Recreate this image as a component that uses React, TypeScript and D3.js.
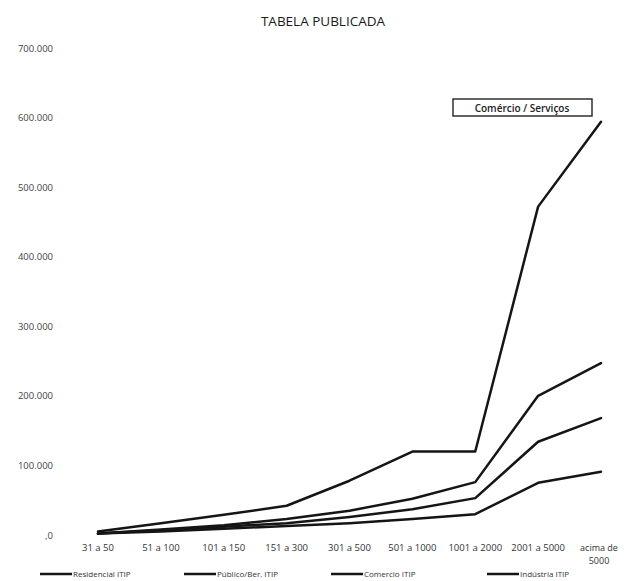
import React from "react";
import * as d3 from "d3";

const categories = ["31 a 50", "51 a 100", "101 a 150", "151 a 300", "301 a 500", "501 a 1000", "1001 a 2000", "2001 a 5000", "acima de 5000"];
const residencial = [2000, 5000, 9000, 13000, 17000, 23000, 30000, 75000, 91000];
const publico = [2000, 7000, 12000, 17000, 26000, 37000, 53000, 134000, 168000];
const comercio = [5000, 17000, 29000, 42000, 78000, 120000, 120000, 472000, 594000];
const industria = [2000, 8000, 14000, 23000, 35000, 52000, 76000, 200000, 247000];
const seriesNames = ["Residencial ITIP", "Público/Ber. ITIP", "Comercio ITIP", "Indústria ITIP"];
const yTicks = [0, 100000, 200000, 300000, 400000, 500000, 600000, 700000];
const yTickLabels = [",0", "100.000", "200.000", "300.000", "400.000", "500.000", "600.000", "700.000"];

const W = 624;
const H = 581;

export default function App() {
  const x = d3.scalePoint<string>().domain(categories).range([98, 601]);
  const y = d3.scaleLinear().domain([0, 700000]).range([535, 48]);
  const line = d3
    .line<number>()
    .x((_, i) => x(categories[i]) as number)
    .y((d) => y(d));
  const series = [residencial, publico, comercio, industria];
  const legendX = [40, 184, 331, 487];
  const font = "'Open Sans', 'Liberation Sans', sans-serif";

  return (
    <div style={{ position: "absolute", left: 0, top: 0 }}>
      <svg width={W} height={H} style={{ display: "block", background: "#fff" }}>
        <text x={323} y={26} textAnchor="middle" fontFamily={font} fontSize={13.5} fill="#1a1a1a" fontWeight={500}>
          TABELA PUBLICADA
        </text>
        {yTicks.map((t, i) => (
          <text key={t} x={53} y={y(t) + 3.5} textAnchor="end" fontFamily={font} fontSize={9.5} fill="#444">
            {yTickLabels[i]}
          </text>
        ))}
        {categories.map((c) => {
          const cx = x(c) as number;
          if (c === "acima de 5000") {
            return (
              <text key={c} x={cx - 2} y={551} textAnchor="middle" fontFamily={font} fontSize={9} fill="#333">
                <tspan x={cx - 2} dy={0}>acima de</tspan>
                <tspan x={cx - 2} dy={13}>5000</tspan>
              </text>
            );
          }
          return (
            <text key={c} x={cx} y={551} textAnchor="middle" fontFamily={font} fontSize={9.5} fill="#333">
              {c}
            </text>
          );
        })}
        {series.map((s, i) => (
          <path key={i} d={line(s) || ""} fill="none" stroke="#151515" strokeWidth={2.5} strokeLinejoin="round" strokeLinecap="round" />
        ))}
        <rect x={453} y={99} width={139} height={17} fill="#fff" stroke="#222" strokeWidth={1.4} />
        <text x={522} y={111.5} textAnchor="middle" fontFamily={font} fontSize={10} fontWeight={600} fill="#222">
          Comércio / Serviços
        </text>
        {seriesNames.map((n, i) => (
          <g key={n}>
            <line x1={legendX[i]} x2={legendX[i] + 32} y1={574} y2={574} stroke="#151515" strokeWidth={2.5} />
            <text x={legendX[i] + 33} y={577} fontFamily={font} fontSize={8} fill="#333">
              {n}
            </text>
          </g>
        ))}
      </svg>
    </div>
  );
}
